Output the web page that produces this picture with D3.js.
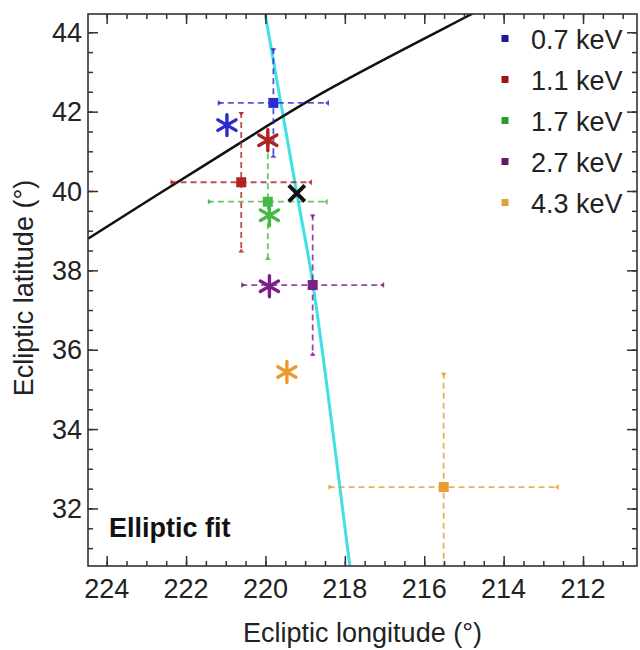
<!DOCTYPE html>
<html>
<head>
<meta charset="utf-8">
<script src="https://cdn.jsdelivr.net/npm/d3@7"></script>
<style>
  html, body { margin: 0; padding: 0; background: #fff; }
  svg { display: block; font-family: "Liberation Sans", Arial, Helvetica, sans-serif; }
</style>
</head>
<body>
<svg id="chart" width="640" height="650"></svg>
<script>
// Energy bands
const energies = ['0.7 keV', '1.1 keV', '1.7 keV', '2.7 keV', '4.3 keV'];

// Measured positions (squares) with 1-sigma errors, degrees
const sqLon = [219.80, 220.61, 219.94, 218.81, 215.51];
const sqLat = [42.22, 40.22, 39.73, 37.63, 32.54];
const lonErr = [1.40, 1.78, 1.51, 1.80, 2.90];
const latErr = [1.38, 1.77, 1.47, 1.78, 2.88];

// Elliptic fit positions (asterisks)
const starLon = [220.97, 219.94, 219.90, 219.90, 219.46];
const starLat = [41.66, 41.28, 39.39, 37.60, 35.44];

// Best-fit point (black cross)
const fitLon = [219.21];
const fitLat = [39.94];

// Black curve
const eclLon = [224.47, 221.55, 218.62, 214.80, 214.30];
const eclLat = [38.80, 40.64, 42.44, 44.46, 44.72];

// Cyan curve
const trackLon = [220.09, 220.01, 219.21, 218.80, 217.87, 217.79];
const trackLat = [44.94, 44.48, 39.94, 37.63, 30.53, 29.95];

// Axis ticks
const xTicks = [224, 222, 220, 218, 216, 214, 212];
const yTicks = [32, 34, 36, 38, 40, 42, 44];

// Styles
const COLORS = ['#2b2bd0', '#b02222', '#45b845', '#7d1f86', '#ec9a30'];
const LEGEND_COLORS = ['#1c1c8c', '#9a1818', '#2f9a2f', '#621a66', '#e0a040'];
const FONT = 27;

// Plot box
const LEFT = 88, RIGHT = 637, TOP = 14, BOTTOM = 566;

const svg = d3.select('#chart');

const x = d3.scaleLinear([224.47, 210.64], [LEFT, RIGHT]);
const y = d3.scaleLinear([30.55, 44.46], [BOTTOM, TOP]);

svg.append('defs').append('clipPath').attr('id', 'clip')
  .append('rect')
  .attr('x', LEFT).attr('y', TOP)
  .attr('width', RIGHT - LEFT).attr('height', BOTTOM - TOP);

const plot = svg.append('g').attr('clip-path', 'url(#clip)');

// Curves
const line = d3.line().curve(d3.curveCatmullRom);

plot.append('path')
  .attr('d', line(trackLon.map((d, i) => [x(d), y(trackLat[i])])))
  .attr('fill', 'none')
  .attr('stroke', '#3fe0e6')
  .attr('stroke-width', 3);

plot.append('path')
  .attr('d', line(eclLon.map((d, i) => [x(d), y(eclLat[i])])))
  .attr('fill', 'none')
  .attr('stroke', '#111')
  .attr('stroke-width', 2.5);

// Error bars
const bands = energies.map((e, i) => ({
  e, i, lon: sqLon[i], lat: sqLat[i], dlon: lonErr[i], dlat: latErr[i],
  slon: starLon[i], slat: starLat[i], color: COLORS[i],
}));

const err = plot.selectAll('g.err').data(bands).enter().append('g').attr('class', 'err');

err.append('line')
  .attr('x1', (d) => x(d.lon + d.dlon)).attr('x2', (d) => x(d.lon - d.dlon))
  .attr('y1', (d) => y(d.lat)).attr('y2', (d) => y(d.lat))
  .attr('stroke', (d) => d.color).attr('stroke-width', 1.8)
  .attr('stroke-dasharray', '6,4').attr('opacity', 0.8);

err.append('line')
  .attr('x1', (d) => x(d.lon)).attr('x2', (d) => x(d.lon))
  .attr('y1', (d) => y(d.lat + d.dlat)).attr('y2', (d) => y(d.lat - d.dlat))
  .attr('stroke', (d) => d.color).attr('stroke-width', 1.8)
  .attr('stroke-dasharray', '6,4').attr('opacity', 0.8);

// small inward triangles at the ends of each bar
const tri = (cx, cy, dir) => {
  const s = 3;
  if (dir === 'r') return `M${cx},${cy - s}L${cx + s * 1.3},${cy}L${cx},${cy + s}Z`;
  if (dir === 'l') return `M${cx},${cy - s}L${cx - s * 1.3},${cy}L${cx},${cy + s}Z`;
  if (dir === 'd') return `M${cx - s},${cy}L${cx},${cy + s * 1.3}L${cx + s},${cy}Z`;
  return `M${cx - s},${cy}L${cx},${cy - s * 1.3}L${cx + s},${cy}Z`;
};

err.append('path')
  .attr('d', (d) =>
    tri(x(d.lon + d.dlon), y(d.lat), 'r') +
    tri(x(d.lon - d.dlon), y(d.lat), 'l') +
    tri(x(d.lon), y(d.lat + d.dlat), 'd') +
    tri(x(d.lon), y(d.lat - d.dlat), 'u'))
  .attr('fill', (d) => d.color)
  .attr('opacity', 0.8);

// Squares
plot.selectAll('rect.sq').data(bands).enter().append('rect')
  .attr('class', 'sq')
  .attr('x', (d) => x(d.lon) - 5).attr('y', (d) => y(d.lat) - 5)
  .attr('width', 10).attr('height', 10)
  .attr('fill', (d) => d.color);

// Asterisks
const star = (r) => {
  let p = '';
  for (let k = 0; k < 3; k++) {
    const a = Math.PI / 2 + (k * Math.PI) / 3;
    const dx = r * Math.cos(a), dy = r * Math.sin(a);
    p += `M${-dx},${-dy}L${dx},${dy}`;
  }
  return p;
};

plot.selectAll('path.star').data(bands).enter().append('path')
  .attr('class', 'star')
  .attr('transform', (d) => `translate(${x(d.slon)},${y(d.slat)})`)
  .attr('d', star(10.5))
  .attr('stroke', (d) => d.color)
  .attr('stroke-width', 3.4)
  .attr('stroke-linecap', 'round');

// Best-fit cross
plot.selectAll('path.fit').data(fitLon).enter().append('path')
  .attr('class', 'fit')
  .attr('transform', (d, i) => `translate(${x(d)},${y(fitLat[i])})`)
  .attr('d', 'M-8,-8L8,8M-8,8L8,-8')
  .attr('stroke', '#111')
  .attr('stroke-width', 4);

// Axes, ticks inward on all four sides
const xMinor = d3.range(224.0, 210.6, -0.5);
const yMinor = d3.range(31.0, 44.5, 0.5);
const axisCol = '#333';

const addTicks = (axis, ticks, size) =>
  axis.tickValues(ticks).tickSize(size).tickFormat('').tickSizeOuter(0);

const drawAxis = (gen, tf) => {
  const g = svg.append('g').attr('transform', tf).call(gen);
  g.selectAll('line').attr('stroke', axisCol).attr('stroke-width', 1.5);
  g.select('.domain').remove();
  return g;
};

drawAxis(addTicks(d3.axisTop(x), xMinor, 5), `translate(0,${BOTTOM})`);
drawAxis(addTicks(d3.axisTop(x), xTicks, 10), `translate(0,${BOTTOM})`);
drawAxis(addTicks(d3.axisBottom(x), xMinor, 5), `translate(0,${TOP})`);
drawAxis(addTicks(d3.axisBottom(x), xTicks, 10), `translate(0,${TOP})`);
drawAxis(addTicks(d3.axisRight(y), yMinor, 5), `translate(${LEFT},0)`);
drawAxis(addTicks(d3.axisRight(y), yTicks, 10), `translate(${LEFT},0)`);
drawAxis(addTicks(d3.axisLeft(y), yMinor, 5), `translate(${RIGHT},0)`);
drawAxis(addTicks(d3.axisLeft(y), yTicks, 10), `translate(${RIGHT},0)`);

svg.append('rect')
  .attr('x', LEFT).attr('y', TOP)
  .attr('width', RIGHT - LEFT).attr('height', BOTTOM - TOP)
  .attr('fill', 'none').attr('stroke', axisCol).attr('stroke-width', 1.6);

// Tick labels
svg.append('g').selectAll('text').data(xTicks).enter().append('text')
  .attr('x', (d) => x(d)).attr('y', 598)
  .attr('text-anchor', 'middle')
  .attr('font-size', FONT).attr('fill', '#222')
  .text((d) => d);

svg.append('g').selectAll('text').data(yTicks).enter().append('text')
  .attr('x', 82).attr('y', (d) => y(d)).attr('dy', '0.36em')
  .attr('text-anchor', 'end')
  .attr('font-size', FONT).attr('fill', '#222')
  .text((d) => d);

// Axis titles
svg.append('text')
  .attr('x', (LEFT + RIGHT) / 2).attr('y', 642)
  .attr('text-anchor', 'middle')
  .attr('font-size', FONT).attr('fill', '#222')
  .text('Ecliptic longitude (°)');

svg.append('text')
  .attr('transform', 'translate(33,288) rotate(-90)')
  .attr('text-anchor', 'middle')
  .attr('font-size', FONT).attr('fill', '#222')
  .text('Ecliptic latitude (°)');

// Panel label
svg.append('text')
  .attr('x', 109).attr('y', 537)
  .attr('font-size', FONT).attr('font-weight', 'bold').attr('fill', '#111')
  .text('Elliptic fit');

// Legend
const legend = svg.append('g').selectAll('g').data(energies).enter().append('g')
  .attr('transform', (d, i) => `translate(0,${49 + i * 41})`);

legend.append('rect')
  .attr('x', 501.5).attr('y', -14).attr('width', 7).attr('height', 7)
  .attr('fill', (d, i) => LEGEND_COLORS[i]);

legend.append('text')
  .attr('x', 531).attr('y', 0)
  .attr('font-size', FONT).attr('fill', '#222')
  .text((d) => d);
</script>
</body>
</html>
